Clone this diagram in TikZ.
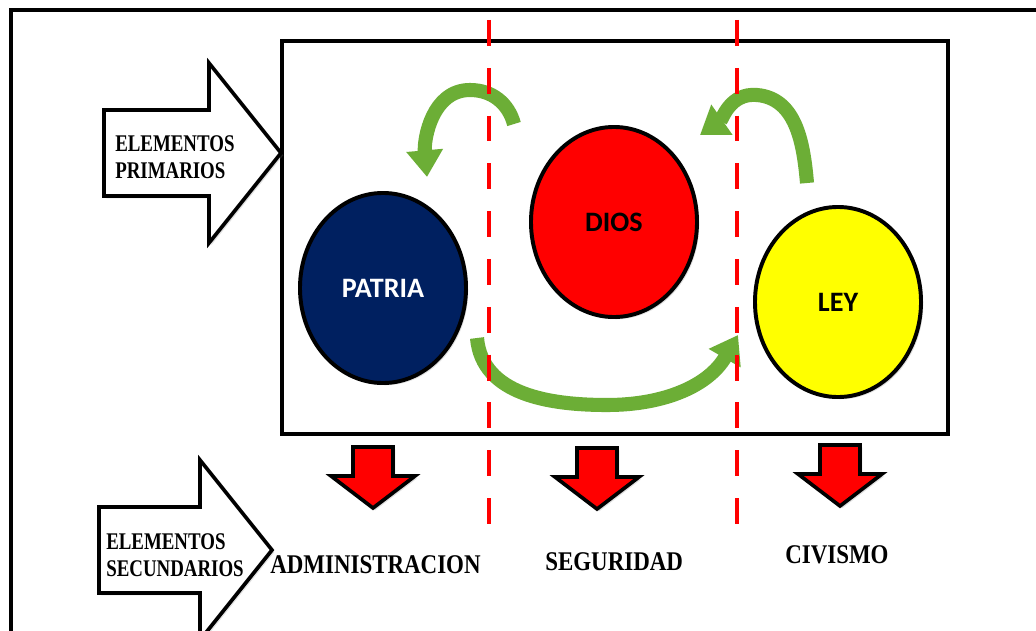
\documentclass[tikz,border=0pt]{standalone}
\usepackage{fontspec}
\setmainfont{Liberation Serif}
\setsansfont{Carlito}
\newfontfamily\tagfont[FakeStretch=0.85]{Liberation Serif}
\newfontfamily\sidefont[FakeStretch=0.79]{Liberation Serif}
\usetikzlibrary{arrows.meta,shapes.geometric,shadows}
\definecolor{bpnavy}{HTML}{002060}
\definecolor{bpred}{HTML}{FF0000}
\definecolor{bpyellow}{HTML}{FFFF00}
\definecolor{bpgreen}{HTML}{6CAE36}
\tikzset{
  softshadow/.style={drop shadow={shadow xshift=1.6pt,shadow yshift=-1.6pt,opacity=.25}},
  frame/.style={draw=black,line width=2.4pt},
  core/.style={draw=black,line width=2.8pt,fill=white,softshadow},
  pillar/.style={ellipse,draw=black,line width=2.8pt,minimum width=4.15cm,minimum height=4.75cm,
    inner sep=0pt,softshadow,font=\sffamily\bfseries\fontsize{20}{24}\selectfont},
  divider/.style={draw=bpred,line width=3.5pt,dash pattern=on 18.4pt off 15.6pt},
  bigarrow/.style={draw=black,line width=2.6pt,fill=white,softshadow},
  downarrow/.style={draw=black,line width=2.6pt,fill=bpred,softshadow},
  curlarrow/.style={draw=bpgreen,line width=10pt,-{Triangle[length=19pt,width=25pt]}},
  tag/.style={font=\tagfont\bfseries\fontsize{19.2}{22}\selectfont,inner sep=0pt,anchor=base west},
  side/.style={font=\sidefont\bfseries\fontsize{17}{19.5}\selectfont,align=left,inner sep=0pt,anchor=west}
}
\begin{document}
\begin{tikzpicture}[x=0.025cm,y=-0.025cm]
    \useasboundingbox (0,0) rectangle (1036,630);
    \clip (0,0) rectangle (1036,630);
    \draw[frame] (11,10) rectangle (1060,660);
    \draw[core] (282,41) rectangle (948,434);
    \draw[bigarrow] (104,110) -- (209,110) -- (209,63) -- (281,153) -- (209,243) -- (209,196) -- (104,196) -- cycle;
    \draw[bigarrow] (99,507) -- (200,507) -- (200,460) -- (272,550) -- (200,640) -- (200,593) -- (99,593) -- cycle;
    \node[side] (prim) at (115,157) {ELEMENTOS\\PRIMARIOS};
    \node[side] (secu) at (106,555) {ELEMENTOS\\SECUNDARIOS};
    \node[pillar,fill=bpnavy,text=white] (patria) at (383,288) {PATRIA};
    \node[pillar,fill=bpred] (dios) at (614,222) {DIOS};
    \node[pillar,fill=bpyellow] (ley) at (838,302) {LEY};
    \coordinate (cycA) at (514,124);
    \coordinate (cycAtip) at (427,177);
    \coordinate (cycB) at (807,183);
    \coordinate (cycBtip) at (700,135);
    \coordinate (spanA) at (477,338);
    \coordinate (spanAtip) at (738,335);
    \draw[curlarrow] (cycA) to[out=105,in=0] (470,90) to[out=180,in=95] (cycAtip);
    \draw[curlarrow] (cycB) to[out=95,in=-5] (757,95) to[out=175,in=35] (cycBtip);
    \draw[curlarrow] (spanA) to[out=-85,in=180] (607,405) to[out=0,in=-120] (spanAtip);
    \foreach \cx/\ty in {373/447,597/448,840/445}
      \draw[downarrow] (\cx-20,\ty) -- (\cx+20,\ty) -- (\cx+20,\ty+29) -- (\cx+42,\ty+29)
        -- (\cx,\ty+61) -- (\cx-42,\ty+29) -- (\cx-20,\ty+29) -- cycle;
    \node[tag] (admin) at (270,573) {ADMINISTRACION};
    \node[tag] (segur) at (545,570) {SEGURIDAD};
    \node[tag] (civis) at (785,563) {CIVISMO};
    \draw[divider] (489,20) -- (489,526);
    \draw[divider] (737,20) -- (737,526);
  \end{tikzpicture}
\end{document}
